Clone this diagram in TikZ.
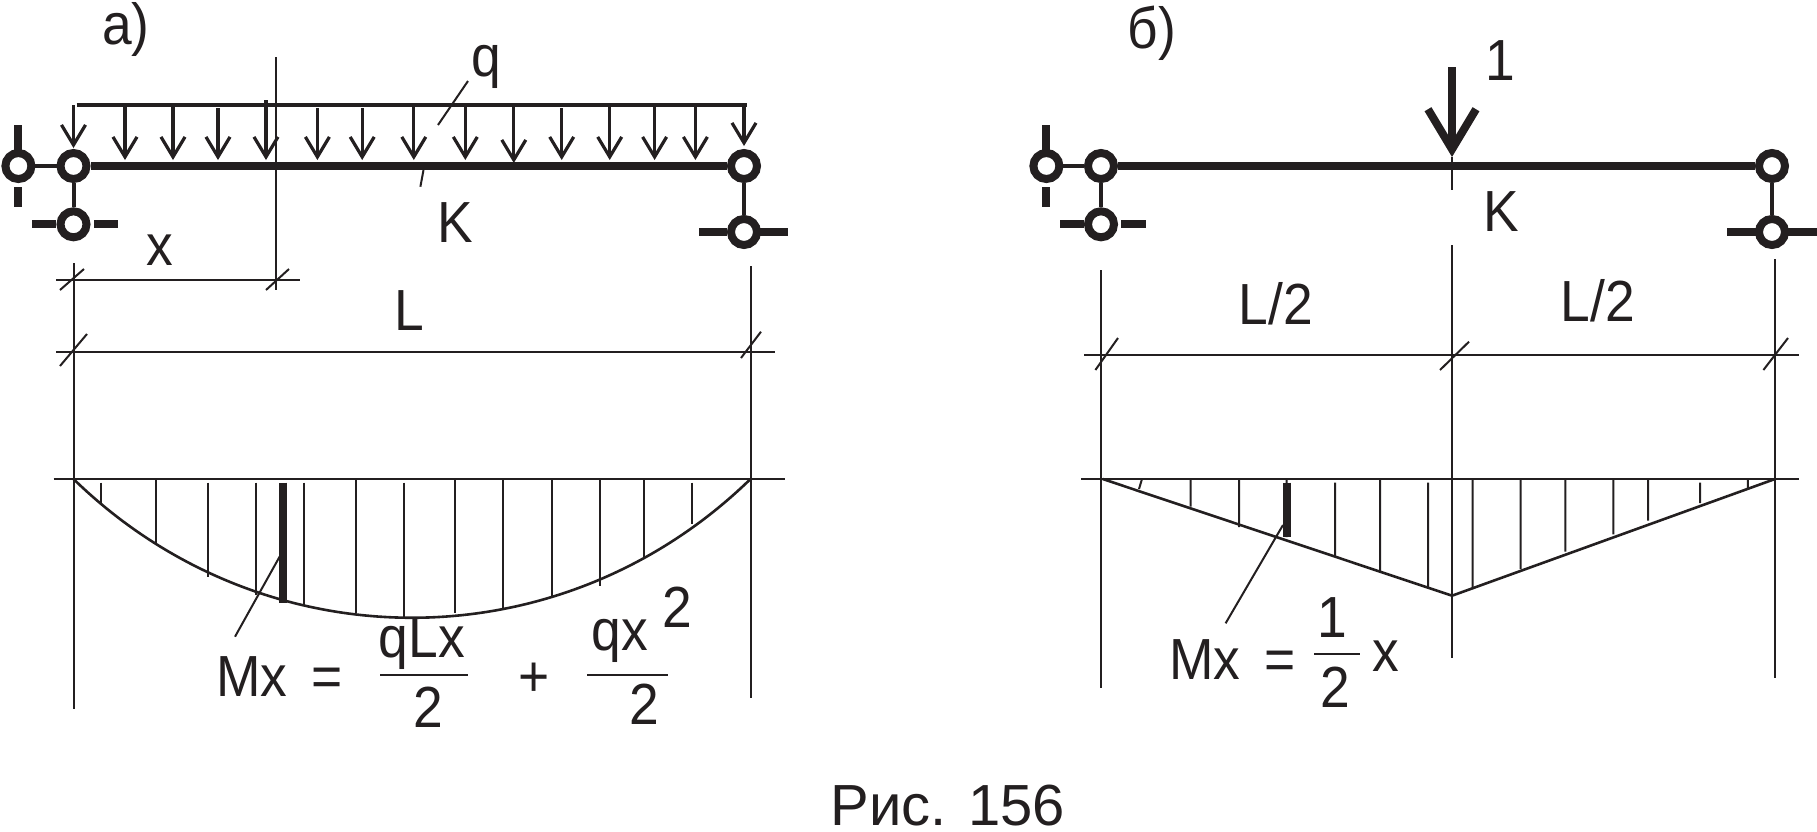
\documentclass[tikz,border=0pt]{standalone}
\usepackage{fontspec}
\setmainfont{Liberation Sans}
\newfontfamily\narrowfont[FakeStretch=0.92]{Liberation Sans}
\usetikzlibrary{arrows.meta}
\definecolor{inkblack}{HTML}{231F20}
\tikzset{
  hingenode/.style={draw=inkblack, shape=circle, fill=white, line width=4pt, minimum size=13pt, inner sep=0pt},
  beamline/.style={draw=inkblack, line width=4pt},
  barline/.style={draw=inkblack, line width=4pt},
  linkline/.style={draw=inkblack, line width=2pt},
  thinline/.style={draw=inkblack, line width=1pt},
  curveline/.style={draw=inkblack, line width=1.3pt},
  loadarrow/.style={draw=inkblack, line width=1.6pt, -{Straight Barb[length=10pt,width=12pt]}},
  forcearrow/.style={draw=inkblack, line width=4pt, -{Straight Barb[length=20pt,width=24pt]}},
  labeltext/.style={anchor=base, inner sep=0pt, text=inkblack, font=\narrowfont\fontsize{29}{29}\selectfont},
  captiontext/.style={anchor=base, inner sep=0pt, text=inkblack, font=\fontsize{29}{29}\selectfont}
}
\begin{document}
\begin{tikzpicture}[x=0.5pt,y=-0.5pt]
\useasboundingbox (0,0) rectangle (1817,831);
% scheme a
\draw[thinline] (276,57)--(276,290);
\node [hingenode] (hingeA) at (73.5,166) {};
\node [hingenode] (hingeAleft) at (18.4,166) {};
\node [hingenode] (hingeAlow) at (73.5,224.3) {};
\node [hingenode] (hingeB) at (744,166) {};
\node [hingenode] (hingeBlow) at (744,232) {};
\draw[beamline] (hingeA)--(hingeB);
\draw[linkline] (hingeA)--(hingeAleft);
\draw[linkline] (hingeA)--(hingeAlow);
\draw[linkline] (hingeB)--(hingeBlow);
\draw[barline] (18.4,125)--(18.4,150) (18.4,187)--(18.4,207);
\draw[barline] (32,224.3)--(56,224.3) (94,224.3)--(118,224.3);
\draw[barline] (699,232)--(727,232) (760,232)--(788,232);
% load q
\draw[linkline] (76.5,104.7)--(747.4,104.7);
\draw[loadarrow] (73.5,105)--(73.5,148);
\draw[loadarrow] (125,105)--(125,160);
\draw[loadarrow] (173,105)--(173,160);
\draw[loadarrow] (218,108)--(218,160);
\draw[loadarrow] (266,100)--(266,160);
\draw[loadarrow] (317.4,108)--(317.4,160);
\draw[loadarrow] (362.2,108)--(362.2,160);
\draw[loadarrow] (413.8,105)--(413.8,160);
\draw[loadarrow] (465.3,105)--(465.3,160);
\draw[loadarrow] (513.8,105)--(513.8,163);
\draw[loadarrow] (561.7,108)--(561.7,160);
\draw[loadarrow] (609.7,105)--(609.7,160);
\draw[loadarrow] (654.6,105)--(654.6,160);
\draw[loadarrow] (695.4,105)--(695.4,160);
\draw[loadarrow] (744,105)--(744,146);
\coordinate (leadqtop) at (468,81);
\coordinate (leadqlow) at (438,125);
\coordinate (leadktop) at (423.5,170);
\coordinate (leadklow) at (420.4,186.7);
\draw[thinline] (leadqtop)--(leadqlow);
\draw[thinline] (leadktop)--(leadklow);
% dimensions a
\draw[thinline] (73.5,263)--(73.5,709);
\draw[thinline] (750.5,266)--(750.5,698);
\draw[thinline] (56,280)--(300,280);
\draw[thinline] (60,290)--(84,269) (266,290)--(289,269);
\draw[thinline] (56,351.7)--(774.5,351.7);
\draw[thinline] (60,366)--(87,334) (741,358)--(761,331.7);
% moment diagram a
\draw[thinline] (53.6,479)--(785,479);
\draw[curveline] (73.5,479) .. controls (263.5,664) and (560.5,664) .. (750.5,479);
\draw[thinline] (101,482.7)--(101,502.7) (155.6,479)--(155.6,544.3) (207.7,482.7)--(207.7,577)
  (255.6,482.7)--(255.6,595) (303.6,482.7)--(303.6,606) (355.6,479)--(355.6,613)
  (403.6,482.7)--(403.6,616.7) (455,479)--(455,613) (503,479)--(503,609)
  (551.5,479)--(551.5,596) (599.5,479)--(599.5,585.7) (644,479)--(644,559) (692,482.7)--(692,524);
\draw[barline] (283,482.7)--(283,603.3);
\coordinate (leadmtop) at (279.6,556.7);
\coordinate (leadmlow) at (235,636.7);
\draw[thinline] (leadmtop)--(leadmlow);
% labels a
\node [labeltext] (labela) at (126,44) {а)};
\node [labeltext] (labelq) at (486,76) {q};
\node [labeltext] (labelK) at (455,242) {K};
\node [labeltext] (labelx) at (160,265) {x};
\node [labeltext] (labelL) at (409,330) {L};
\node [labeltext] (labelMa) at (252,696) {Mx};
\node [labeltext] (labeleqa) at (327,696) {=};
\node [labeltext] (labelqLx) at (422,657.7) {qLx};
\node [labeltext] (labeltwoa) at (428.5,727) {2};
\node [labeltext] (labelplus) at (534,696) {+};
\node [labeltext] (labelqx) at (620,650.7) {qx};
\node [labeltext] (labelsup) at (677.5,627) {2};
\node [labeltext] (labeltwob) at (644,724) {2};
\draw[linkline, line width=1pt] (380,675)--(468,675);
\draw[linkline, line width=1pt] (587,675)--(668,675);
% scheme b
\node [hingenode] (hingeC) at (1101,166) {};
\node [hingenode] (hingeCleft) at (1046.4,166) {};
\node [hingenode] (hingeClow) at (1101,224.3) {};
\node [hingenode] (hingeD) at (1772,166) {};
\node [hingenode] (hingeDlow) at (1772,232) {};
\draw[beamline] (hingeC)--(hingeD);
\draw[linkline] (hingeC)--(hingeCleft);
\draw[linkline] (hingeC)--(hingeClow);
\draw[linkline] (hingeD)--(hingeDlow);
\draw[barline] (1046.4,125)--(1046.4,150) (1046.4,187)--(1046.4,207);
\draw[barline] (1060,224.3)--(1084.4,224.3) (1121.4,224.3)--(1146.4,224.3);
\draw[barline] (1727,232)--(1755.6,232) (1788,232)--(1817,232);
\coordinate (forcetop) at (1452,67);
\coordinate (forcetip) at (1452,157);
\draw[forcearrow] (forcetop)--(forcetip);
\draw[thinline] (forcetip)--(1452,190);
% dimensions b
\draw[thinline] (1452,245)--(1452,657.7);
\draw[thinline] (1101,270)--(1101,688);
\draw[thinline] (1775,259)--(1775,678);
\draw[thinline] (1084,355)--(1799,355);
\draw[thinline] (1095.4,370)--(1118,338) (1440,370)--(1469,341.7) (1763.4,370)--(1788,338);
% moment diagram b
\draw[thinline] (1081,479)--(1799,479);
\draw[curveline] (1102.7,479)--(1452,595.7)--(1775,479);
\draw[thinline] (1141.7,480)--(1139,489) (1190.7,479)--(1190.7,506.7) (1239,479)--(1239,527)
  (1286.6,479)--(1286.6,537) (1335,482.7)--(1335,556.7) (1380,479)--(1380,571.7)
  (1428,482.7)--(1428,588) (1472.6,479)--(1472.6,589) (1520.6,479)--(1520.6,569)
  (1565.4,479)--(1565.4,551.7) (1613.3,479)--(1613.3,534.3) (1648,479)--(1648,520.7)
  (1700,482.7)--(1700,503) (1747.8,479)--(1747.8,489);
\draw[barline] (1286.6,482.7)--(1286.6,537);
\coordinate (leadntop) at (1283,525);
\coordinate (leadnlow) at (1225.6,623.3);
\draw[thinline] (leadntop)--(leadnlow);
% labels b
\node [labeltext] (labelb) at (1152,48) {б)};
\node [labeltext] (labelone) at (1500,80) {1};
\node [labeltext] (labelKb) at (1501,231.7) {K};
\node [labeltext] (labelLa) at (1276,324) {L/2};
\node [labeltext] (labelLb) at (1598,321.7) {L/2};
\node [labeltext] (labelMb) at (1205,679) {Mx};
\node [labeltext] (labeleqb) at (1280,679) {=};
\node [labeltext] (labelnum) at (1332,637.7) {1};
\node [labeltext] (labelden) at (1335,707) {2};
\node [labeltext] (labelxb) at (1386,671.7) {x};
\draw[linkline, line width=1pt] (1314,654)--(1359.6,654);
% caption
\node [captiontext] (caption) at (948,825) {Рис. 156};
\end{tikzpicture}
\end{document}
